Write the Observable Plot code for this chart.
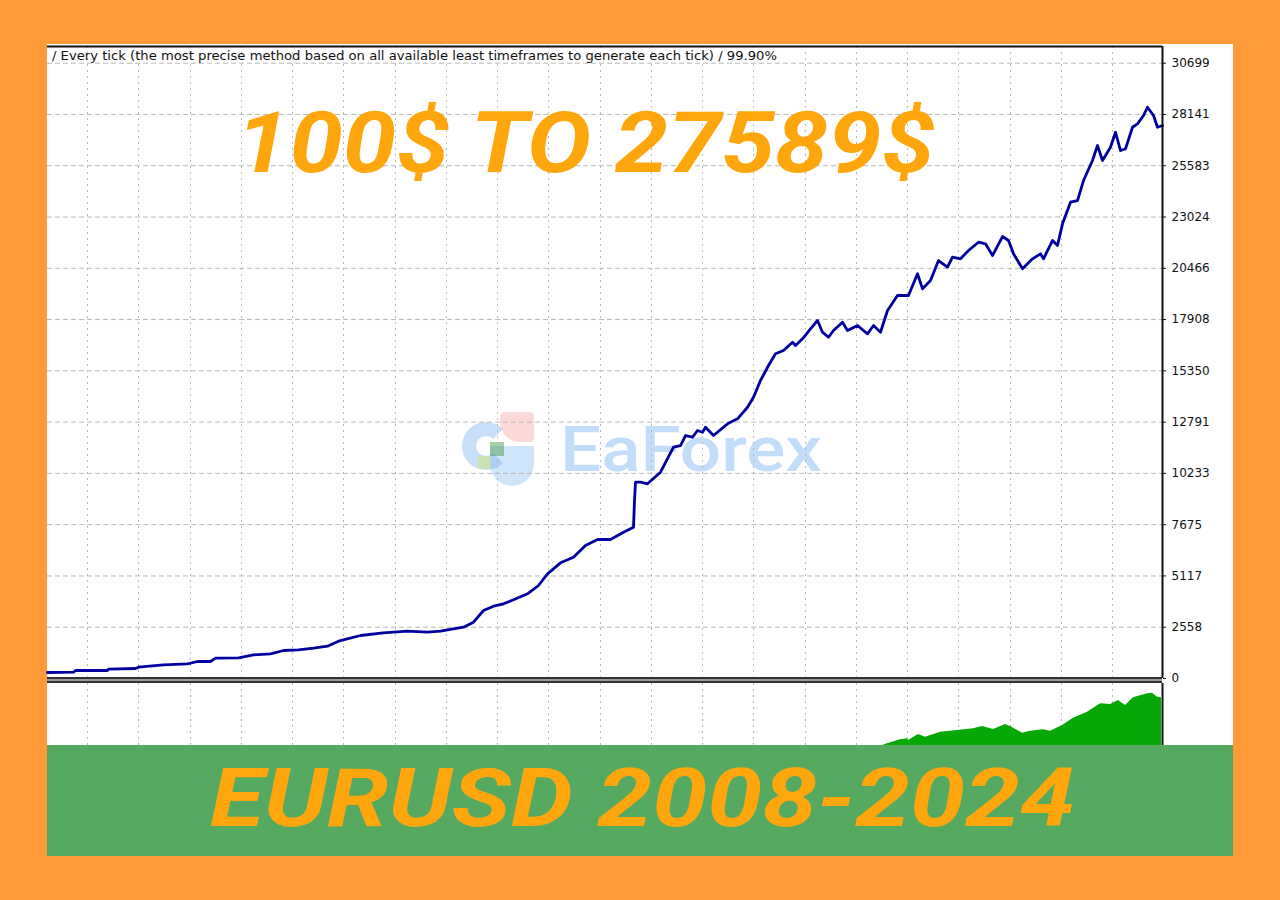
<!DOCTYPE html>
<html>
<head>
<meta charset="utf-8">
<script src="https://cdn.jsdelivr.net/npm/d3@7"></script>
<script src="https://cdn.jsdelivr.net/npm/@observablehq/plot@0.6"></script>
<style>
  html, body { margin: 0; padding: 0; background: #FE9A37; }
  #wrap { position: relative; width: 1280px; height: 900px; overflow: hidden; background: #FE9A37; }
  .abs { position: absolute; }
  .fit { white-space: nowrap; transform-origin: 0 0; }
  #main svg, #sub svg { display: block; }
</style>
</head>
<body>
<div id="wrap">
  <div class="abs" style="left:47px;top:44px;width:1186px;height:701px;background:#ffffff"></div>
  <div class="abs" style="left:47px;top:745px;width:1186px;height:111px;background:#55A960"></div>

  <!-- watermark logo + text -->
  <div class="abs" style="left:462px;top:412px;width:74px;height:74px;">
    <div class="abs" style="left:0;top:10px;width:48px;height:48px;border:14px solid rgba(110,170,240,0.38);border-right-color:transparent;border-radius:50%;box-sizing:border-box;"></div>
    <div class="abs" style="left:28px;top:34px;width:44px;height:40px;border-radius:0 0 30px 30px;background:rgba(110,170,240,0.32);"></div>
    <div class="abs" style="left:38px;top:0;width:34px;height:30px;border-radius:4px 4px 4px 20px;background:rgba(250,150,150,0.35);"></div>
    <div class="abs" style="left:28px;top:30px;width:14px;height:14px;background:rgba(60,150,60,0.45);"></div>
    <div class="abs" style="left:16px;top:44px;width:13px;height:13px;background:rgba(200,230,110,0.5);"></div>
  </div>
  <div id="wm" class="abs fit" style="left:560px;top:418px;font:500 63px Roboto, sans-serif;line-height:1;color:rgba(120,180,245,0.45);">EaForex</div>

  <div id="main" class="abs" style="left:47px;top:44px;"></div>
  <div id="sub" class="abs" style="left:47px;top:683px;"></div>

  <div id="hdr" class="abs fit" style="left:52px;top:51px;font:11.5px 'DejaVu Sans', sans-serif;line-height:1;color:#111;"></div>
  <div id="t1" class="abs fit" style="left:236px;top:101px;font:italic 700 85px Roboto, sans-serif;line-height:1;color:#FFA60D;"></div>
  <div id="t2" class="abs fit" style="left:210px;top:757px;font:italic 700 82px Roboto, sans-serif;line-height:1;color:#FFA60D;"></div>
</div>
<script>
// ---------- data ----------
const headerText = "/ Every tick (the most precise method based on all available least timeframes to generate each tick) / 99.90%";
const titleText = "100$ TO 27589$";
const footerText = "EURUSD 2008-2024";

// equity (balance) curve: trade index vs. balance in $
const trades = [0, 26, 28, 60, 61, 88, 91, 116, 140, 150, 163, 168, 191, 206, 223, 236, 251, 266, 280, 291,
  313, 336, 360, 380, 393, 400, 416, 426, 436, 446, 456, 466, 480, 491, 500, 513, 526, 538, 550, 563,
  576, 586, 587, 588, 593, 600, 613, 626, 633, 638, 645, 650, 655, 658, 666, 680, 690, 700, 706, 713,
  721, 728, 736, 745, 748, 755, 763, 770, 775, 781, 786, 795, 800, 810, 820, 826, 833, 840, 850, 861,
  870, 875, 883, 891, 900, 905, 913, 921, 931, 938, 945, 955, 961, 966, 975, 985, 993, 996, 1005, 1010,
  1015, 1023, 1030, 1036, 1045, 1050, 1055, 1063, 1068, 1073, 1078, 1085, 1090, 1096, 1100, 1106, 1110, 1115];
const balance = [300, 314, 399, 399, 464, 499, 564, 683, 733, 848, 848, 1013, 1033, 1182, 1232, 1397, 1432, 1512, 1611, 1861,
  2145, 2280, 2360, 2310, 2360, 2430, 2559, 2809, 3393, 3607, 3727, 3926, 4226, 4640, 5223, 5772, 6052, 6635, 6935, 6935,
  7299, 7548, 8880, 9793, 9793, 9714, 10292, 11540, 11624, 12123, 12038, 12373, 12288, 12537, 12123, 12707, 12956, 13535, 14034, 14867,
  15616, 16199, 16364, 16778, 16613, 16947, 17446, 17861, 17277, 17027, 17362, 17776, 17362, 17611, 17197, 17611, 17277, 18360, 19108, 19108,
  20191, 19442, 19856, 20854, 20520, 21019, 20939, 21353, 21767, 21687, 21103, 22051, 21852, 21188, 20440, 20939, 21188, 20939, 21852, 21602,
  22685, 23763, 23847, 24845, 25843, 26591, 25843, 26507, 27255, 26342, 26427, 27504, 27674, 28088, 28502, 28088, 27504, 27590];

// lower panel (volume) series, relative units
const volTrades = [835, 840, 853, 860, 861, 871, 878, 893, 910, 926, 935, 946, 958, 963, 975, 983, 996, 1003, 1015, 1026,
  1040, 1053, 1063, 1071, 1078, 1086, 1100, 1105, 1110, 1114];
const volume = [0, 1.7, 5.7, 6.7, 5, 11, 8.3, 13.3, 15, 16.7, 19, 16, 21, 19, 12.3, 14.3, 15.7, 14.3, 20, 27.3,
  33.3, 41.7, 41, 45, 40, 47.7, 51.7, 52.3, 48.3, 47.7];

const yTicks = [0, 2558, 5117, 7675, 10233, 12791, 15350, 17908, 20466, 23024, 25583, 28141, 30699];
const xGrid = [40, 91, 143, 194, 245, 296, 348, 399, 450, 501, 553, 604, 655, 706, 758, 809, 860, 911, 963, 1014, 1065];
const xDomain = [0, 1115];
const yDomain = [0, 31532];

// ---------- build ----------
const equity = trades.map((t, i) => ({t, b: balance[i]}));
const vol = volTrades.map((t, i) => ({t, v: volume[i]}));

const main = Plot.plot({
  width: 1186, height: 640,
  marginTop: 2, marginBottom: 6, marginLeft: 0, marginRight: 71,
  x: {domain: xDomain, axis: null},
  y: {domain: yDomain, axis: null, label: null},
  style: {background: "transparent", fontFamily: "'DejaVu Sans', sans-serif", fontSize: "12px", color: "#111", overflow: "visible"},
  marks: [
    Plot.ruleY(yTicks.filter(d => d > 0), {stroke: "#b8b8b8", strokeWidth: 1, strokeDasharray: "5,3"}),
    Plot.ruleX(xGrid, {stroke: "#b8b8b8", strokeWidth: 1, strokeDasharray: "2,4"}),
    Plot.line(equity, {x: "t", y: "b", stroke: "#0000A0", strokeWidth: 2.8, strokeLinejoin: "round"}),
    Plot.ruleY([yDomain[1]], {stroke: "#111", strokeWidth: 2}),
    Plot.ruleX([xDomain[1]], {stroke: "#111", strokeWidth: 2}),
    Plot.ruleY([0], {stroke: "#333", strokeWidth: 2, dy: -0.5}),
    Plot.ruleY([0], {stroke: "#999", strokeWidth: 2, dy: 1.5}),
    Plot.ruleY([0], {stroke: "#333", strokeWidth: 2, dy: 3.5}),
    Plot.axisY(yTicks, {anchor: "right", label: null, tickSize: 3, tickPadding: 6, tickFormat: d => `${d}`, stroke: "#111", fill: "#111"})
  ]
});
document.getElementById("main").appendChild(main);

const sub = Plot.plot({
  width: 1186, height: 62,
  marginTop: 0, marginBottom: 0, marginLeft: 0, marginRight: 71,
  x: {domain: xDomain, axis: null},
  y: {domain: [0, 62], axis: null, label: null},
  style: {background: "transparent"},
  marks: [
    Plot.ruleX(xGrid, {stroke: "#b8b8b8", strokeWidth: 1, strokeDasharray: "2,4"}),
    Plot.areaY(vol, {x: "t", y: "v", fill: "#05A805"}),
    Plot.ruleX([xDomain[1]], {stroke: "#111", strokeWidth: 2})
  ]
});
document.getElementById("sub").appendChild(sub);

// texts, fitted to the reference widths
function fit(id, text, targetWidth) {
  const el = document.getElementById(id);
  if (text) el.textContent = text;
  const w = el.getBoundingClientRect().width;
  el.style.transform = `scaleX(${targetWidth / w})`;
}
fit("hdr", headerText, 725);
fit("t1", titleText, 699);
fit("t2", footerText, 865);
fit("wm", null, 262);
</script>
</body>
</html>
